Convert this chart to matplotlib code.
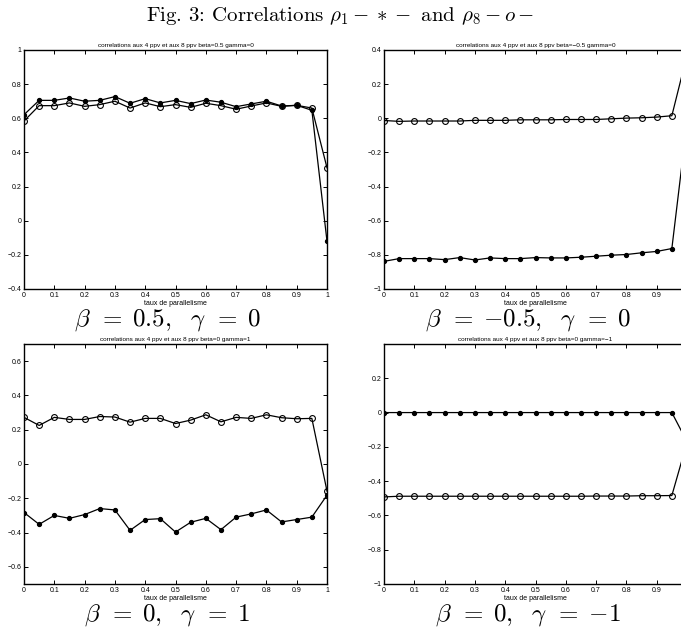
import numpy as np
import matplotlib
matplotlib.use("Agg")
import matplotlib.pyplot as plt

plt.rcParams['mathtext.fontset'] = 'cm'
plt.rcParams['font.family'] = ['Liberation Sans', 'DejaVu Sans']
plt.rcParams['axes.unicode_minus'] = True

x = [0, 0.05, 0.1, 0.15, 0.2, 0.25, 0.3, 0.35, 0.4, 0.45, 0.5,
     0.55, 0.6, 0.65, 0.7, 0.75, 0.8, 0.85, 0.9, 0.95, 1.0]

# panel 1: beta=0.5, gamma=0
rho1_a = [0.621, 0.705, 0.705, 0.719, 0.700, 0.705, 0.727, 0.688, 0.715, 0.690, 0.705,
          0.686, 0.707, 0.694, 0.668, 0.684, 0.700, 0.672, 0.676, 0.647, -0.12]
rho8_a = [0.584, 0.674, 0.674, 0.690, 0.670, 0.680, 0.700, 0.660, 0.690, 0.668, 0.680,
          0.664, 0.688, 0.674, 0.653, 0.672, 0.690, 0.670, 0.676, 0.660, 0.31]
# panel 2: beta=-0.5, gamma=0
rho1_b = [-0.838, -0.822, -0.822, -0.822, -0.828, -0.816, -0.830, -0.818, -0.822, -0.822, -0.816,
          -0.818, -0.818, -0.814, -0.808, -0.802, -0.798, -0.788, -0.780, -0.763, -0.025]
rho8_b = [-0.013, -0.018, -0.016, -0.016, -0.016, -0.016, -0.012, -0.012, -0.012, -0.009, -0.009,
          -0.009, -0.007, -0.007, -0.007, -0.003, 0.001, 0.003, 0.007, 0.015, 0.37]
# panel 3: beta=0, gamma=1
rho1_c = [-0.283, -0.352, -0.300, -0.317, -0.295, -0.260, -0.268, -0.387, -0.324, -0.319, -0.397,
          -0.340, -0.317, -0.383, -0.310, -0.291, -0.268, -0.338, -0.324, -0.310, -0.182]
rho8_c = [0.272, 0.225, 0.272, 0.260, 0.260, 0.277, 0.274, 0.244, 0.266, 0.266, 0.236,
          0.256, 0.287, 0.246, 0.272, 0.266, 0.287, 0.270, 0.264, 0.266, -0.158]
# panel 4: beta=0, gamma=-1
rho1_d = [0.0] * 20 + [-0.17]
rho8_d = [-0.492, -0.488, -0.488, -0.488, -0.488, -0.488, -0.488, -0.488, -0.488, -0.488, -0.488,
          -0.488, -0.488, -0.488, -0.487, -0.487, -0.487, -0.485, -0.485, -0.484, -0.175]

titles = ["correlations aux 4 ppv et aux 8 ppv beta=0.5 gamma=0",
          "correlations aux 4 ppv et aux 8 ppv beta=\u22120.5 gamma=0",
          "correlations aux 4 ppv et aux 8 ppv beta=0 gamma=1",
          "correlations aux 4 ppv et aux 8 ppv beta=0 gamma=\u22121"]
captions = [r"$\beta\;\,{=}\;0.5,\ \ \gamma\;\,{=}\;0$",
            r"$\beta\;\,{=}\;{-}0.5,\ \ \gamma\;\,{=}\;0$",
            r"$\beta\;\,{=}\;0,\ \ \gamma\;\,{=}\;1$",
            r"$\beta\;\,{=}\;0,\ \ \gamma\;\,{=}\;{-}1$"]
ylims = [(-0.4, 1.0), (-1.0, 0.4), (-0.7, 0.7), (-1.0, 0.4)]
yticks = [[-0.4, -0.2, 0, 0.2, 0.4, 0.6, 0.8, 1],
          [-1, -0.8, -0.6, -0.4, -0.2, 0, 0.2, 0.4],
          [-0.6, -0.4, -0.2, 0, 0.2, 0.4, 0.6],
          [-1, -0.8, -0.6, -0.4, -0.2, 0, 0.2]]
xticks = [0, 0.1, 0.2, 0.3, 0.4, 0.5, 0.6, 0.7, 0.8, 0.9, 1]
data = [(rho1_a, rho8_a), (rho1_b, rho8_b), (rho1_c, rho8_c), (rho1_d, rho8_d)]

W, H = 681, 630
fig = plt.figure(figsize=(W / 100, H / 100), dpi=100)

# axes pixel boxes: left, top, width, height
boxes = [(24, 50, 303, 239), (384, 50, 303, 239),
         (24, 344, 303, 240), (384, 344, 303, 240)]

def fmt(v):
    if abs(v) < 1e-9:
        return "0"
    s = ("%g" % v)
    return s.replace("-", "\u2212")

for i, (l, t, w, h) in enumerate(boxes):
    ax = fig.add_axes([l / W, 1 - (t + h) / H, w / W, h / H])
    r1, r8 = data[i]
    ax.plot(x, r8, '-o', color='black', lw=0.9, ms=4.2, mfc='none', mec='black', mew=0.8)
    ax.plot(x, r1, '-o', color='black', lw=0.9, ms=2.8, mfc='black', mec='black')
    ax.set_xlim(0, 1)
    ax.set_ylim(*ylims[i])
    ax.set_xticks(xticks)
    ax.set_xticklabels([fmt(v) for v in xticks])
    ax.set_yticks(yticks[i])
    ax.set_yticklabels([fmt(v) for v in yticks[i]])
    ax.tick_params(direction='in', length=3, width=0.7, labelsize=5, pad=2,
                   top=True, right=True)
    for sp in ax.spines.values():
        sp.set_linewidth(1.0)
    ax.set_title(titles[i], fontsize=4.6, pad=2)
    ax.set_xlabel("taux de parallelisme", fontsize=5, labelpad=1)
    fig.text((l + w / 2 - 8) / W, 1 - (t + h + 31) / H, captions[i],
             ha='center', va='center', fontsize=18)

fig.text(0.5, 1 - 16 / H,
         r"Fig. 3: Correlations $\rho_1 - \ast -$ and $\rho_8 - o -$",
         ha='center', va='center', fontsize=15, family='cmr10')

fig.savefig("out.png", dpi=100)
